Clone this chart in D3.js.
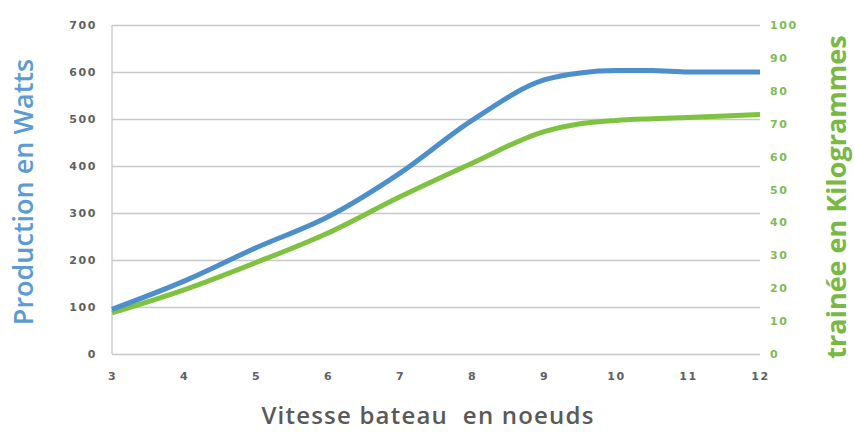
<!DOCTYPE html>
<html>
<head>
<meta charset="utf-8">
<script src="https://cdn.jsdelivr.net/npm/d3@7"></script>
<style>
  body { margin: 0; background: #fff; }
  .tick text { font-family: "DejaVu Sans", sans-serif; font-weight: 700; font-size: 11px; letter-spacing: 1.6px; }
  .grid line { stroke: #c8c8c8; stroke-width: 1.3; }
</style>
</head>
<body>
<svg id="chart" width="854" height="432"></svg>
<script>
const speeds = [3, 4, 5, 6, 7, 8, 9, 9.5, 10, 10.5, 11, 12];
const watts = [95, 155, 226, 292, 385, 497, 583, 598, 603, 603, 600, 600];
const kilos = [12.5, 19.5, 27.8, 36.8, 47.8, 58, 67.6, 70, 71, 71.5, 71.9, 72.8];
const wattTicks = [0, 100, 200, 300, 400, 500, 600, 700];
const kiloTicks = [0, 10, 20, 30, 40, 50, 60, 70, 80, 90, 100];
const speedTicks = [3, 4, 5, 6, 7, 8, 9, 10, 11, 12];

const margin = { left: 112, right: 94, top: 25, bottom: 78 };
const width = 854 - margin.left - margin.right;
const height = 432 - margin.top - margin.bottom;

const svg = d3.select("#chart");
const g = svg.append("g").attr("transform", `translate(${margin.left},${margin.top})`);

const x = d3.scaleLinear().domain([3, 12]).range([0, width]);
const yW = d3.scaleLinear().domain([0, 700]).range([height, 0]);
const yK = d3.scaleLinear().domain([0, 100]).range([height, 0]);

// horizontal gridlines
g.append("g")
  .attr("class", "grid")
  .call(d3.axisLeft(yW).tickValues(wattTicks).tickSize(-width).tickFormat(""))
  .call(a => a.select(".domain").remove());

g.append("line")
  .attr("x1", 0).attr("x2", 0).attr("y1", 0).attr("y2", height)
  .attr("stroke", "#c8c8c8").attr("stroke-width", 1.3);

// left axis labels
g.append("g")
  .call(d3.axisLeft(yW).tickValues(wattTicks).tickSize(0).tickPadding(15))
  .call(a => a.select(".domain").remove())
  .call(a => a.selectAll("text").attr("fill", "#5f5f5f"));

// right axis labels
g.append("g")
  .attr("transform", `translate(${width},0)`)
  .call(d3.axisRight(yK).tickValues(kiloTicks).tickSize(0).tickPadding(10))
  .call(a => a.select(".domain").remove())
  .call(a => a.selectAll("text").attr("fill", "#80bb55"));

// bottom axis labels
g.append("g")
  .attr("transform", `translate(0,${height})`)
  .call(d3.axisBottom(x).tickValues(speedTicks).tickSize(0).tickPadding(18))
  .call(a => a.select(".domain").remove())
  .call(a => a.selectAll("text").attr("fill", "#5f5f5f"));

const lineW = d3.line().x((d, i) => x(speeds[i])).y(d => yW(d)).curve(d3.curveMonotoneX);
const lineK = d3.line().x((d, i) => x(speeds[i])).y(d => yK(d)).curve(d3.curveMonotoneX);

g.append("path")
  .attr("d", lineK(kilos))
  .attr("fill", "none").attr("stroke", "#7fc241").attr("stroke-width", 5);

g.append("path")
  .attr("d", lineW(watts))
  .attr("fill", "none").attr("stroke", "#4c8fca").attr("stroke-width", 5);

// axis titles
svg.append("text")
  .attr("transform", `translate(33,192) rotate(-90)`)
  .attr("text-anchor", "middle")
  .attr("font-family", "Open Sans, sans-serif").attr("font-weight", 600)
  .attr("font-size", 27).attr("fill", "#5a9bd3")
  .text("Production en Watts");

svg.append("text")
  .attr("transform", `translate(846,197) rotate(-90)`)
  .attr("text-anchor", "middle")
  .attr("font-family", "Open Sans, sans-serif").attr("font-weight", 700)
  .attr("font-size", 27).attr("fill", "#78b843")
  .text("trainée en Kilogrammes");

svg.append("text")
  .attr("x", 428).attr("y", 424)
  .attr("text-anchor", "middle")
  .style("white-space", "pre")
  .attr("font-family", "Open Sans, sans-serif").attr("font-weight", 600)
  .attr("font-size", 24).attr("letter-spacing", 1.2).attr("fill", "#595959")
  .text("Vitesse bateau  en noeuds");
</script>
</body>
</html>
